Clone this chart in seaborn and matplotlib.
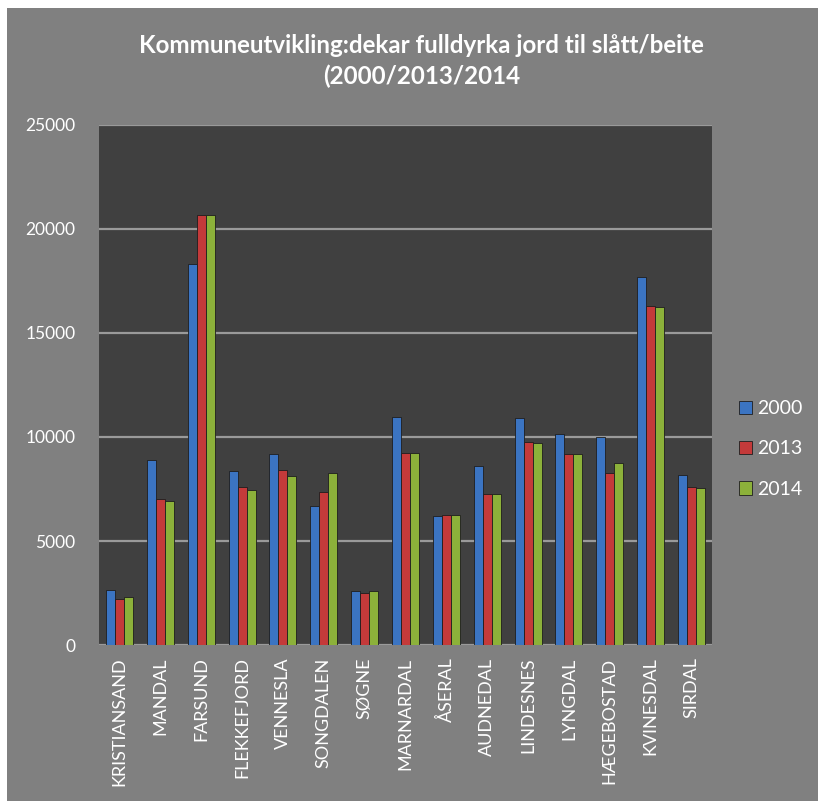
import pandas as pd
import seaborn as sns
import matplotlib.pyplot as plt
from matplotlib.patches import Rectangle

# dekar fulldyrka jord per kommune
kommuner = ["KRISTIANSAND", "MANDAL", "FARSUND", "FLEKKEFJORD", "VENNESLA",
            "SONGDALEN", "SØGNE", "MARNARDAL", "ÅSERAL", "AUDNEDAL",
            "LINDESNES", "LYNGDAL", "HÆGEBOSTAD", "KVINESDAL", "SIRDAL"]
v2000 = [2630, 8890, 18310, 8360, 9190, 6670, 2580, 10960, 6190, 8590,
         10910, 10130, 10020, 17680, 8160]
v2013 = [2200, 7000, 20660, 7580, 8410, 7350, 2520, 9220, 6240, 7250,
         9750, 9170, 8260, 16290, 7580]
v2014 = [2300, 6920, 20660, 7450, 8110, 8260, 2580, 9220, 6240, 7250,
         9700, 9170, 8740, 16240, 7530]
years = ["2000", "2013", "2014"]

df = pd.DataFrame({"kommune": kommuner * 3,
                   "dekar": v2000 + v2013 + v2014,
                   "aar": [y for y in years for _ in kommuner]})

BG = "#808080"
PLOT_BG = "#404040"
colors = {"2000": "#3b74c2", "2013": "#c43a3a", "2014": "#8cb13a"}

sns.set_style("dark")
plt.rcParams["font.family"] = ["Lato", "DejaVu Sans"]

fig = plt.figure(figsize=(8.18, 8.01), dpi=100, facecolor="white")
fig.patches.append(Rectangle((7 / 818, 0), 1, 1 - 8 / 801, transform=fig.transFigure,
                             facecolor=BG, edgecolor="none", zorder=-10))
ax = fig.add_axes([99 / 818, 1 - 645 / 801, 613 / 818, 520 / 801])
ax.set_facecolor(PLOT_BG)

sns.barplot(data=df, x="kommune", y="dekar", hue="aar", palette=colors,
            width=0.66, saturation=1, ax=ax, edgecolor="#1e1e1e", linewidth=0.6)

ax.set_ylim(0, 25000)
ax.set_yticks(range(0, 25001, 5000))
ax.yaxis.grid(True, color="#9a9a9a", linewidth=1.6)
ax.xaxis.grid(False)
ax.set_axisbelow(True)
for s in ax.spines.values():
    s.set_visible(False)
ax.set_xlabel("")
ax.set_ylabel("")
ax.tick_params(axis="y", colors="white", labelsize=12.5, length=0, pad=17)
ax.tick_params(axis="x", colors="white", labelsize=13, length=0, pad=9, rotation=90)

ax.legend(loc="center left", bbox_to_anchor=(1.015, 0.377), frameon=False,
          labelcolor="white", fontsize=14, labelspacing=1.2,
          handlelength=0.7, handleheight=0.7, handletextpad=0.25)

fig.text(0.515, 1 - 61 / 801, "Kommuneutvikling:dekar fulldyrka jord til slått/beite\n(2000/2013/2014",
         ha="center", va="center", color="white", fontsize=17.4, fontweight="bold",
         linespacing=1.35)

fig.savefig("out.png", dpi=100, facecolor=fig.get_facecolor())
